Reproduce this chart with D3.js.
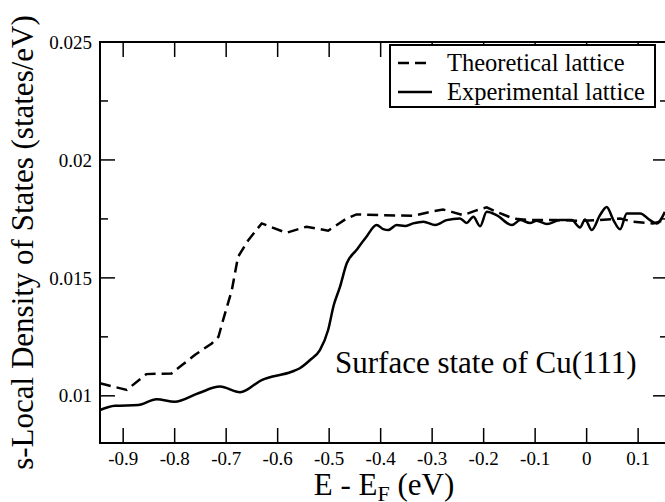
<!DOCTYPE html>
<html>
<head>
<meta charset="utf-8">
<script src="https://cdn.jsdelivr.net/npm/d3@7"></script>
<style>
  body { margin: 0; background: #fff; }
  svg { display: block; }
  svg text { font-family: "Liberation Serif", "DejaVu Serif", serif; }
</style>
</head>
<body>
<div id="chart"></div>
<script>
// s-LDOS of the Cu(111) surface state, theoretical vs experimental lattice

const theoryE = [-0.945, -0.893, -0.855, -0.806, -0.790, -0.761, -0.728, -0.715, -0.706, -0.689, -0.677, -0.657,
    -0.631, -0.583, -0.544, -0.502, -0.466, -0.447, -0.401, -0.337, -0.304, -0.279, -0.262, -0.240, -0.213,
    -0.194, -0.175, -0.143, -0.110, -0.058, -0.013, 0.026, 0.065, 0.090, 0.129, 0.152];
const theoryDos = [0.01053, 0.01025, 0.01092, 0.01095, 0.01123, 0.01173, 0.01222, 0.0125, 0.01321, 0.01448, 0.01589, 0.0166,
    0.01731, 0.01691, 0.01717, 0.01700, 0.01752, 0.01769, 0.01766, 0.01763, 0.0178, 0.0179, 0.0178, 0.01766, 0.01787,
    0.01799, 0.0178, 0.01752, 0.01745, 0.01745, 0.01742, 0.01745, 0.01752, 0.01738, 0.01731, 0.01745];

const expE = [-0.945, -0.916, -0.871, -0.835, -0.800, -0.754, -0.712, -0.673, -0.631, -0.573, -0.557, -0.537, -0.518,
    -0.502, -0.491, -0.479, -0.466, -0.447, -0.428, -0.408, -0.395, -0.385, -0.369, -0.353, -0.337, -0.317, -0.294,
    -0.272, -0.246, -0.233, -0.220, -0.207, -0.194, -0.175, -0.145, -0.129, -0.110, -0.097, -0.077, -0.052, -0.029,
    -0.013, -0.003, 0.010, 0.026, 0.039, 0.052, 0.065, 0.078, 0.104, 0.123, 0.136, 0.152];
const expDos = [0.0094, 0.00958, 0.00961, 0.00986, 0.00975, 0.01011, 0.01039, 0.01015, 0.01067, 0.01102, 0.01117, 0.01152,
    0.01194, 0.01279, 0.01385, 0.01462, 0.01561, 0.01618, 0.01673, 0.01724, 0.01707, 0.01703, 0.01724, 0.0172, 0.01731,
    0.01738, 0.01724, 0.01745, 0.01752, 0.01733, 0.01759, 0.01719, 0.0178, 0.01766, 0.01724, 0.01745, 0.01733, 0.01742,
    0.01728, 0.01745, 0.01745, 0.01714, 0.01748, 0.01703, 0.01766, 0.01801, 0.01745, 0.01706, 0.01773, 0.01773, 0.01745,
    0.01731, 0.0178];

const xTicks = [-0.9, -0.8, -0.7, -0.6, -0.5, -0.4, -0.3, -0.2, -0.1, 0, 0.1];
const xTickLabels = ["-0.9", "-0.8", "-0.7", "-0.6", "-0.5", "-0.4", "-0.3", "-0.2", "-0.1", "0", "0.1"];
const yTicks = [0.01, 0.015, 0.02, 0.025];
const yTickLabels = ["0.01", "0.015", "0.02", "0.025"];
const yMinorTicks = [0.0125, 0.0175, 0.0225];

const legendLabels = ["Theoretical lattice", "Experimental lattice"];
const annotation = "Surface state of Cu(111)";

const W = 665, H = 502;
const plotL = 100, plotR = 668, plotT = 42, plotB = 443;

const svg = d3.select("#chart").append("svg")
    .attr("width", W)
    .attr("height", H);

svg.append("rect").attr("width", W).attr("height", H).attr("fill", "#fff");

const x = d3.scaleLinear().domain([-0.945, 0.158]).range([plotL, plotR]);
const y = d3.scaleLinear().domain([0.008, 0.025]).range([plotB, plotT]);

// curves
const theory = theoryE.map((e, i) => ({ e, v: theoryDos[i] }));
const exper = expE.map((e, i) => ({ e, v: expDos[i] }));

const lineLin = d3.line().x(d => x(d.e)).y(d => y(d.v));
const lineSmooth = d3.line().x(d => x(d.e)).y(d => y(d.v)).curve(d3.curveMonotoneX);

svg.append("path")
    .datum(exper)
    .attr("fill", "none")
    .attr("stroke", "#000")
    .attr("stroke-width", 2.5)
    .attr("stroke-linejoin", "round")
    .attr("d", lineSmooth);

svg.append("path")
    .datum(theory)
    .attr("fill", "none")
    .attr("stroke", "#000")
    .attr("stroke-width", 2.5)
    .attr("stroke-dasharray", "11,6")
    .attr("d", lineLin);

// frame and ticks
const axes = svg.append("g").attr("stroke", "#000");

axes.append("rect")
    .attr("x", plotL).attr("y", plotT)
    .attr("width", plotR - plotL).attr("height", plotB - plotT)
    .attr("fill", "none")
    .attr("stroke-width", 2);

xTicks.forEach(t => {
    axes.append("line").attr("x1", x(t)).attr("x2", x(t)).attr("y1", plotB).attr("y2", plotB - 15).attr("stroke-width", 1.5);
    axes.append("line").attr("x1", x(t)).attr("x2", x(t)).attr("y1", plotT).attr("y2", plotT + 15).attr("stroke-width", 1.5);
});
yTicks.forEach(t => {
    axes.append("line").attr("x1", plotL).attr("x2", plotL + 15).attr("y1", y(t)).attr("y2", y(t)).attr("stroke-width", 1.5);
    axes.append("line").attr("x1", plotR).attr("x2", plotR - 15).attr("y1", y(t)).attr("y2", y(t)).attr("stroke-width", 1.5);
});
yMinorTicks.forEach(t => {
    axes.append("line").attr("x1", plotL).attr("x2", plotL + 8).attr("y1", y(t)).attr("y2", y(t)).attr("stroke-width", 1.5);
    axes.append("line").attr("x1", plotR).attr("x2", plotR - 8).attr("y1", y(t)).attr("y2", y(t)).attr("stroke-width", 1.5);
});

// tick labels
svg.append("g").selectAll("text")
    .data(xTicks)
    .join("text")
    .attr("x", d => x(d))
    .attr("y", 465)
    .attr("text-anchor", "middle")
    .attr("font-size", 19)
    .text((d, i) => xTickLabels[i]);

svg.append("g").selectAll("text")
    .data(yTicks)
    .join("text")
    .attr("x", 92)
    .attr("y", d => y(d))
    .attr("dy", "0.35em")
    .attr("text-anchor", "end")
    .attr("font-size", 19)
    .text((d, i) => yTickLabels[i]);

// axis titles
const xt = svg.append("text")
    .attr("x", (plotL + plotR) / 2)
    .attr("y", 495)
    .attr("text-anchor", "middle")
    .attr("font-size", 31);
xt.append("tspan").text("E - E");
xt.append("tspan").attr("font-size", 22).attr("dy", 6).text("F");
xt.append("tspan").attr("dy", -6).text(" (eV)");

svg.append("text")
    .attr("transform", `translate(33,${(plotT + plotB) / 2}) rotate(-90)`)
    .attr("text-anchor", "middle")
    .attr("font-size", 31)
    .text("s-Local Density of States (states/eV)");

// annotation
svg.append("text")
    .attr("x", 335)
    .attr("y", 373)
    .attr("font-size", 31)
    .text(annotation);

// legend
const lg = svg.append("g");
lg.append("rect")
    .attr("x", 390).attr("y", 45)
    .attr("width", 265).attr("height", 62)
    .attr("fill", "#fff")
    .attr("stroke", "#000")
    .attr("stroke-width", 2);

const dashes = [true, false];
legendLabels.forEach((label, i) => {
    const cy = 63 + i * 29;
    lg.append("line")
        .attr("x1", 398).attr("x2", 432)
        .attr("y1", cy).attr("y2", cy)
        .attr("stroke", "#000")
        .attr("stroke-width", 2.5)
        .attr("stroke-dasharray", dashes[i] ? "11,6" : null);
    lg.append("text")
        .attr("x", 447)
        .attr("y", cy + 8)
        .attr("font-size", 24.5)
        .text(label);
});
</script>
</body>
</html>
